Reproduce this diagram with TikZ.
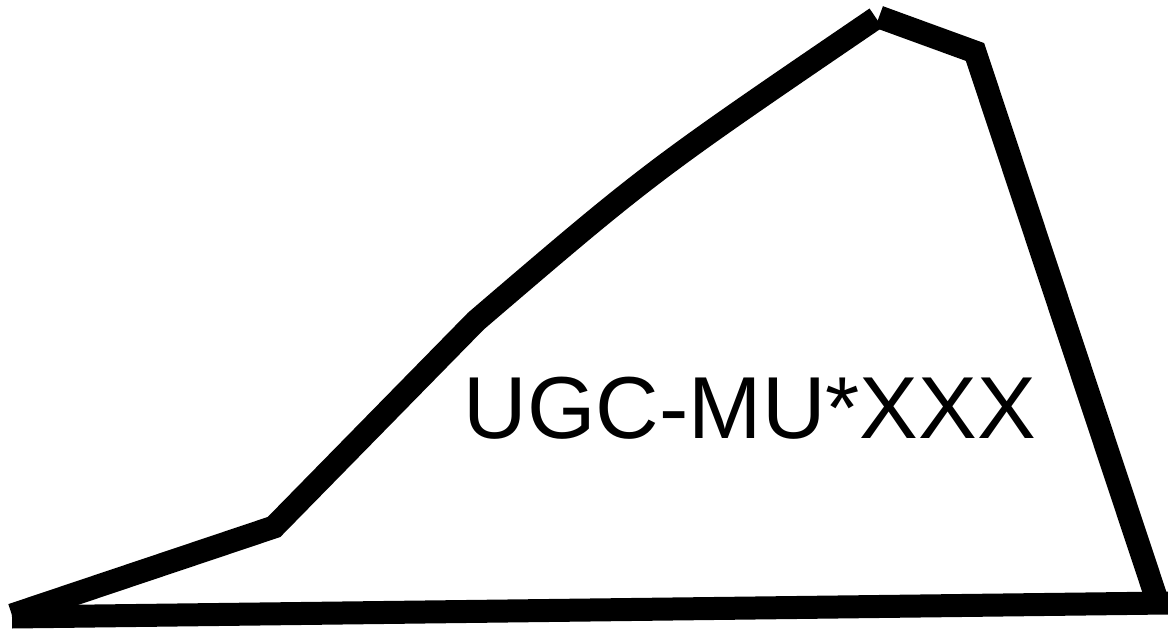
\documentclass[tikz,border=0pt]{standalone}
\usepackage{fontspec}
\setmainfont{Liberation Sans}
\usetikzlibrary{positioning}

\begin{document}
\begin{tikzpicture}[x=1pt, y=-1pt,
  edge/.style={line width=23pt, line join=miter, line cap=butt, black},
  lbl/.style={font=\fontsize{88}{100}\selectfont, inner sep=0pt}
]
  \useasboundingbox (0,0) rectangle (1168,631);
  % outline corners
  \coordinate (a) at (12,615);
  \coordinate (b) at (274,527);
  \coordinate (c) at (476,321);
  \coordinate (cm) at (650,172);
  \coordinate (d) at (876,18);
  \coordinate (dr) at (879,17);
  \coordinate (e) at (975,52);
  \coordinate (f) at (1158,603);
  \coordinate (g) at (1168,603);
  \coordinate (h) at (12,617);
  \draw[edge] (a) -- (b) -- (c) .. controls (cm) .. (d);
  \draw[edge] (dr) -- (e) -- (f);
  \draw[edge] (g) -- (h);
  \node[lbl] (name) at (750,408) {UGC-MU*XXX};
\end{tikzpicture}
\end{document}
